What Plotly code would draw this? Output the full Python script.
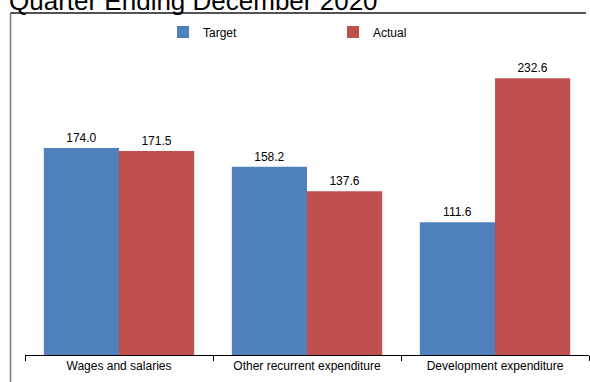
import plotly.graph_objects as go

categories = ["Wages and salaries", "Other recurrent expenditure", "Development expenditure"]
target = [174.0, 158.2, 111.6]
actual = [171.5, 137.6, 232.6]
title_text = "Quarter Ending December 2020"

W, H = 590, 382
ml, mr, mt, mb = 25, 1, 40, 27
pw = W - ml - mr
ph = H - mt - mb

def px_x(x):
    return (x - ml) / pw

def px_y(y):
    return (H - mb - y) / ph

fig = go.Figure()
fig.add_trace(go.Bar(name="Target", x=categories, y=target, marker_color="#4F81BD",
                     marker_line_width=0,
                     text=[f"{v:.1f}" for v in target], textposition="outside",
                     textfont=dict(size=12, color="black"), cliponaxis=False))
fig.add_trace(go.Bar(name="Actual", x=categories, y=actual, marker_color="#C0504D",
                     marker_line_width=0,
                     text=[f"{v:.1f}" for v in actual], textposition="outside",
                     textfont=dict(size=12, color="black"), cliponaxis=False))

fig.update_layout(
    width=W, height=H,
    margin=dict(l=ml, r=mr, t=mt, b=mb, autoexpand=False),
    paper_bgcolor="white", plot_bgcolor="white",
    font=dict(family="Liberation Sans, Arial, sans-serif", size=12, color="black"),
    barmode="group", bargap=0.2, bargroupgap=0,
    showlegend=True,
    legend=dict(orientation="h", x=px_x(163), y=px_y(32), xanchor="left", yanchor="middle",
                entrywidth=125, entrywidthmode="pixels", font=dict(size=12),
                itemwidth=30, bgcolor="rgba(0,0,0,0)"),
    xaxis=dict(showline=True, linecolor="black", linewidth=1, ticks="outside",
               tickson="boundaries", ticklen=5, tickcolor="black", automargin=False,
               tickfont=dict(size=12), showgrid=False, zeroline=False),
    yaxis=dict(range=[0, ph / 1.19], visible=False, showgrid=False, zeroline=False),
)

# outer frame (top and left edges visible in the cropped reference)
fig.add_shape(type="line", xref="paper", yref="paper",
              x0=px_x(10.5), x1=px_x(586), y0=px_y(13), y1=px_y(13),
              line=dict(color="#1a1a1a", width=1.5))
fig.add_shape(type="line", xref="paper", yref="paper",
              x0=px_x(10.5), x1=px_x(10.5), y0=px_y(13), y1=px_y(400),
              line=dict(color="#7a7a7a", width=1.5))

fig.add_annotation(text=title_text, xref="paper", yref="paper",
                   x=px_x(7), y=px_y(18), xanchor="left", yanchor="bottom",
                   showarrow=False, font=dict(size=26, color="black"))

fig.write_html("out.html", config={"displayModeBar": False},
               post_script="document.body.style.margin='0';document.body.style.overflow='hidden';")
